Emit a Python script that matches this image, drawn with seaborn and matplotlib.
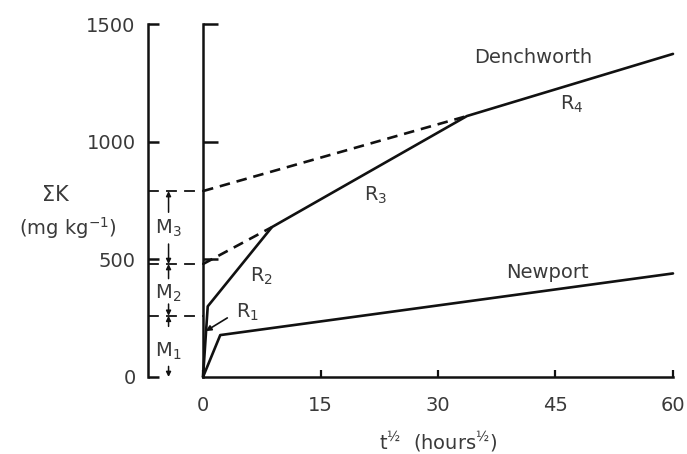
import numpy as np
import pandas as pd
import matplotlib.pyplot as plt
import seaborn as sns

# values (t^1/2 in hours^1/2, K in mg/kg)
t_dench = [0, 0.6, 8.8, 33.7, 60]
k_dench = [0, 300, 637, 1109, 1373]
t_newport = [0, 2.2, 60]
k_newport = [0, 178, 440]
t_r3_ext = [0, 8.8]
k_r3_ext = [480, 637]
t_r4_ext = [0, 33.7]
k_r4_ext = [790, 1109]
m_bounds = [260, 480, 790]
x_ticks = [0, 15, 30, 45, 60]
y_ticks = [0, 500, 1000, 1500]
left_axis_t = -7

sns.set_style("ticks")
plt.rcParams['font.family'] = ['DejaVu Sans']
plt.rcParams['mathtext.fontset'] = 'dejavusans'
plt.rcParams['mathtext.default'] = 'regular'

txt = '#3a3a3a'
ink = '#111111'
fs = 14

fig = plt.figure(figsize=(6.87, 4.54), dpi=100)
ax = fig.add_axes([0.1587, 0.1593, 0.8323, 0.8189])
ax.set_xlim(-12, 61)
ax.set_ylim(-20, 1560)

dench = pd.DataFrame({'t': t_dench, 'K': k_dench})
newp = pd.DataFrame({'t': t_newport, 'K': k_newport})
sns.lineplot(data=dench, x='t', y='K', color=ink, lw=1.9, ax=ax, estimator=None)
sns.lineplot(data=newp, x='t', y='K', color=ink, lw=1.9, ax=ax, estimator=None)
for tt, kk in [(t_r3_ext, k_r3_ext), (t_r4_ext, k_r4_ext)]:
    ax.plot(tt, kk, color=ink, lw=1.9, ls=(0, (4, 2.6)))

# boundaries between M pools
ax.hlines(m_bounds, left_axis_t, 0, colors=ink, lw=1.3, linestyles=(0, (6, 4)))

# left axis (labelled) and main axis at t = 0
for s in ['top', 'right']:
    ax.spines[s].set_visible(False)
ax.spines['left'].set_position(('data', left_axis_t))
ax.spines['left'].set_bounds(0, 1500)
ax.spines['bottom'].set_position(('data', 0))
ax.spines['bottom'].set_bounds(0, 60)
for s in ['left', 'bottom']:
    ax.spines[s].set_linewidth(1.8)
    ax.spines[s].set_color(ink)
ax.set_yticks(y_ticks)
ax.set_xticks(x_ticks)
ax.tick_params(axis='y', direction='in', length=8, width=1.8, color=ink,
               pad=9, labelsize=fs, labelcolor=txt)
ax.tick_params(axis='x', direction='in', length=5, width=1.6, color=ink,
               pad=14, labelsize=fs, labelcolor=txt)

sec = ax.secondary_yaxis(12 / 73)
sec.set_yticks(y_ticks[1:])
sec.tick_params(direction='in', length=11, width=1.8, color=ink, labelleft=False)
sec.spines['left'].set_bounds(0, 1500)
sec.spines['left'].set_linewidth(1.8)
sec.spines['left'].set_color(ink)

ax.set_xlabel('t$^{½}$  (hours$^{½}$)', fontsize=fs, color=txt)
ax.xaxis.set_label_coords(0.575, -0.13)
ax.set_ylabel('')

# curve labels
ax.text(42.1, 1356, 'Denchworth', fontsize=fs, color=txt, ha='center', va='center')
ax.text(44, 446, 'Newport', fontsize=fs, color=txt, ha='center', va='center')
ax.text(47.1, 1160, 'R$_{4}$', fontsize=fs, color=txt, ha='center', va='center')
ax.text(22, 773, 'R$_{3}$', fontsize=fs, color=txt, ha='center', va='center')
ax.text(7.5, 429, 'R$_{2}$', fontsize=fs, color=txt, ha='center', va='center')
ax.text(5.7, 276, 'R$_{1}$', fontsize=fs, color=txt, ha='center', va='center')
ax.annotate('', xy=(0.35, 195), xytext=(3.1, 251),
            arrowprops=dict(arrowstyle='-|>', color=ink, lw=1.2,
                            mutation_scale=8, shrinkA=0, shrinkB=0))

# M pool labels with arrows to their bounds
m_x = -4.4
m_labels = [('M$_{1}$', 110, 0, 260, 45, 215),
            ('M$_{2}$', 357, 260, 480, 310, 418),
            ('M$_{3}$', 633, 480, 790, 565, 700)]
for lab, ky, lo, hi, lo_start, hi_start in m_labels:
    ax.text(m_x, ky, lab, fontsize=fs, color=txt, ha='center', va='center')
    for start, end in [(hi_start, hi), (lo_start, lo)]:
        ax.annotate('', xy=(m_x, end), xytext=(m_x, start),
                    arrowprops=dict(arrowstyle='-|>', color=ink, lw=1.1,
                                    mutation_scale=7, shrinkA=0, shrinkB=0))

ax.text(-18.9, 773, 'ΣK', fontsize=fs + 1, color=txt, ha='center', va='center')
ax.text(-17.3, 633, '(mg kg$^{-1}$)', fontsize=fs, color=txt, ha='center', va='center')

fig.savefig('out.png', dpi=100)
